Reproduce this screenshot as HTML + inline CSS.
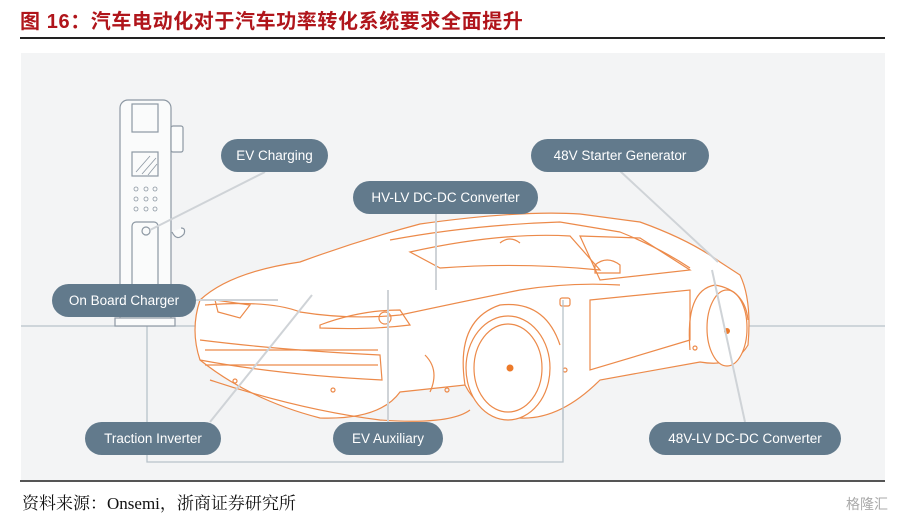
<!DOCTYPE html>
<html><head><meta charset="utf-8"><style>
body{margin:0;width:916px;height:521px;background:#fff;position:relative;overflow:hidden;font-family:"Liberation Sans",sans-serif}
.t{position:absolute;left:20px;top:5px;font:bold 20px "Liberation Sans","Noto Sans CJK SC",sans-serif;color:#b0151b;letter-spacing:0.6px}
.hr{position:absolute;left:20px;top:37px;width:865px;height:2px;background:#222}
.panel{position:absolute;left:21px;top:53px;width:864px;height:427px;background:#f3f4f5}
.bl{position:absolute;left:20px;top:480px;width:865px;height:2px;background:#555}
.src{position:absolute;left:22px;top:489px;font:17px "Liberation Serif","Noto Serif CJK SC",serif;color:#111}
.p{position:absolute;height:33px;line-height:33px;border-radius:17px;background:#627a8c;color:#fff;font-size:13.5px;text-align:center}
svg{position:absolute;left:0;top:0}
</style></head><body>
<div class="t">图 16：汽车电动化对于汽车功率转化系统要求全面提升</div>
<div class="hr"></div>
<div class="panel"></div>
<svg width="916" height="521" fill="none">
<line x1="21" y1="326" x2="885" y2="326" stroke="#b8c2ca" stroke-width="1.3"/>
<polyline points="147,326 147,462 563,462 563,300" stroke="#b8c2ca" stroke-width="1.3"/>
<!-- charger -->
<g stroke="#8d98a3" stroke-width="1.2" fill="#fafbfb">
<path d="M120,318 V108 a8,8 0 0 1 8,-8 H163 a8,8 0 0 1 8,8 V318 Z"/>
<rect x="132" y="104" width="26" height="28"/>
<rect x="132" y="152" width="26" height="24"/>
<rect x="171" y="126" width="12" height="26" rx="2"/>
<rect x="132" y="222" width="26" height="90" rx="4"/>
<circle cx="146" cy="231" r="4"/>
<path d="M172,232 q5,10 12,2 q2,-6 -3,-6"/>
<rect x="115" y="318" width="60" height="8"/>
</g>
<g stroke="#8d98a3" stroke-width="0.8">
<line x1="136" y1="172" x2="150" y2="156"/><line x1="142" y1="174" x2="156" y2="158"/><line x1="148" y1="175" x2="157" y2="164"/>
<circle cx="136" cy="189" r="2"/><circle cx="146" cy="189" r="2"/><circle cx="155" cy="189" r="2"/>
<circle cx="136" cy="199" r="2"/><circle cx="146" cy="199" r="2"/><circle cx="155" cy="199" r="2"/>
<circle cx="136" cy="209" r="2"/><circle cx="146" cy="209" r="2"/><circle cx="155" cy="209" r="2"/>
</g>
<!-- car -->
<g stroke="#ec8a4a" stroke-width="1.2">
<path fill="#fff" d="M200,300 Q230,272 300,262 Q360,240 420,224 Q520,210 580,214 L640,222 Q690,240 720,262 L740,275 Q752,300 748,345 Q735,368 700,362 L600,380 Q560,420 520,418 Q480,415 465,385 L400,392 Q380,420 320,418 Q250,400 200,360 Q190,330 200,300 Z"/>
<path d="M390,240 Q470,225 560,222 L620,232 Q660,248 690,268"/>
<path d="M410,252 Q500,232 570,236 L600,270 Q520,262 440,268 Z"/>
<path d="M580,236 L640,238 L690,270 L600,280 Z"/>
<path d="M205,305 Q270,300 300,312 Q350,320 400,315 Q470,300 520,290 Q570,282 620,285"/>
<path d="M215,300 L250,305 L240,318 L218,312 Z"/>
<path d="M320,325 Q360,310 400,310 L410,325 Q370,330 320,328 Z"/>
<circle cx="385" cy="318" r="6"/>
<path d="M200,340 Q280,350 380,355 L382,380 Q280,375 200,360"/>
<path d="M205,350 H378 M205,365 H378"/>
<ellipse cx="508" cy="368" rx="42" ry="52" fill="#fff"/>
<ellipse cx="508" cy="368" rx="34" ry="44"/>
<ellipse cx="727" cy="328" rx="20" ry="38" fill="#fff"/>
<path d="M465,385 Q455,320 500,305 Q545,300 560,345"/>
<path d="M690,350 Q685,290 715,285 Q745,290 748,320"/>
<path d="M210,380 Q300,410 380,420 Q450,425 470,410"/>
<path d="M590,300 L690,290 L690,340 L590,370 Z"/>
<path d="M425,355 Q440,370 430,392"/>
<circle cx="235" cy="381" r="2"/><circle cx="333" cy="390" r="2"/><circle cx="447" cy="390" r="2"/><circle cx="565" cy="370" r="2"/><circle cx="695" cy="348" r="2"/>
<rect x="560" y="298" width="10" height="8" rx="2"/>
<path d="M500,243 q10,-8 20,0 M595,265 q12,-10 25,0 v8 h-25 z"/>
</g>
<circle cx="510" cy="368" r="3.5" fill="#ec7a2a"/>
<circle cx="727" cy="331" r="3" fill="#ec7a2a"/>
<line x1="563" y1="300" x2="563" y2="420" stroke="#b8c2ca" stroke-width="1.3"/>
<!-- leader lines -->
<g stroke="#cfd3d7" stroke-width="2">
<line x1="150" y1="230" x2="265" y2="172"/>
<line x1="196" y1="300" x2="278" y2="300"/>
<line x1="436" y1="213" x2="436" y2="290"/>
<line x1="620" y1="171" x2="718" y2="262"/>
<line x1="210" y1="422" x2="312" y2="295"/>
<line x1="388" y1="422" x2="388" y2="290"/>
<line x1="745" y1="422" x2="712" y2="270"/>
</g>
</svg>
<div class="p" style="left:221px;top:139px;width:107px">EV Charging</div>
<div class="p" style="left:353px;top:181px;width:185px">HV-LV DC-DC Converter</div>
<div class="p" style="left:531px;top:139px;width:178px">48V Starter Generator</div>
<div class="p" style="left:52px;top:284px;width:144px">On Board Charger</div>
<div class="p" style="left:85px;top:422px;width:136px">Traction Inverter</div>
<div class="p" style="left:333px;top:422px;width:110px">EV Auxiliary</div>
<div class="p" style="left:649px;top:422px;width:192px">48V-LV DC-DC Converter</div>
<div class="bl"></div>
<div class="src">资料来源：Onsemi，浙商证券研究所</div>
<div style="position:absolute;left:846px;top:494px;font:14px 'Liberation Sans','Noto Sans CJK SC',sans-serif;color:#aaa">格隆汇</div>
</body></html>
